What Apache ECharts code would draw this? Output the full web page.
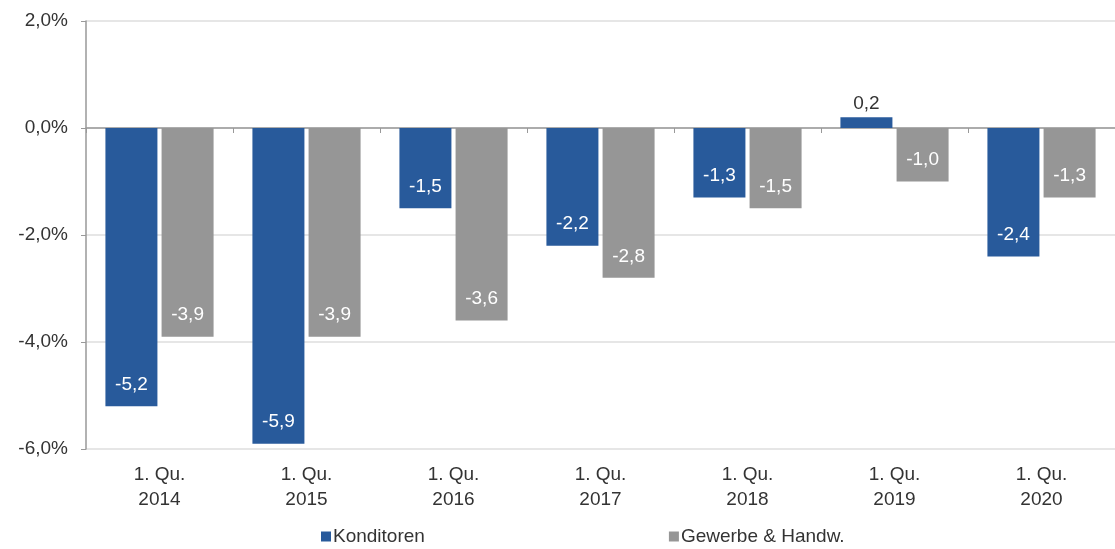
<!DOCTYPE html>
<html><head><meta charset="utf-8">
<script src="https://cdn.jsdelivr.net/npm/echarts@6/dist/echarts.min.js"></script>
<style>html,body{margin:0;padding:0;background:#fff}#c{width:1115px;height:549px}</style>
</head><body><div id="c"></div>
<script>
const categories = ['1. Qu.\n2014','1. Qu.\n2015','1. Qu.\n2016','1. Qu.\n2017','1. Qu.\n2018','1. Qu.\n2019','1. Qu.\n2020'];
const konditoren = [-5.2, -5.9, -1.5, -2.2, -1.3, 0.2, -2.4];
const gewerbe = [-3.9, -3.9, -3.6, -2.8, -1.5, -1.0, -1.3];
const seriesNames = ['Konditoren', 'Gewerbe & Handw.'];
const colors = ['#285a9b', '#969696'];
const FONT = 'Liberation Sans, Arial, sans-serif';
const FS = 19;

function fmt(v){ return v.toFixed(1).replace('.', ','); }
function mkData(arr){
  return arr.map(v => v >= 0
    ? {value: v, label: {position: 'top', color: '#333', distance: 4}}
    : {value: v});
}
const chart = echarts.init(document.getElementById('c'));
chart.setOption({
  animation: false,
  textStyle: {fontFamily: FONT},
  grid: {left: 86, width: 1039, top: 21, bottom: 100},
  legend: {
    bottom: 3, left: 321, padding: 0, itemGap: 244, itemWidth: 10, itemHeight: 10,
    icon: 'rect',
    textStyle: {fontFamily: FONT, fontSize: FS, color: '#333', padding: [0,0,0,-3]},
    data: seriesNames
  },
  xAxis: [{
    type: 'category', data: categories, position: 'bottom',
    axisLine: {show: false, onZero: false}, axisTick: {show: false},
    axisLabel: {fontFamily: FONT, fontSize: FS, color: '#333', margin: 13, lineHeight: 25}
  }, {
    type: 'category', data: categories, position: 'top',
    axisLine: {show: true, onZero: true, lineStyle: {color: '#999', width: 1.5}},
    axisTick: {show: true, length: 5, inside: true, lineStyle: {color: '#999'}},
    axisLabel: {show: false}
  }],
  yAxis: {
    type: 'value', min: -6, max: 2, interval: 2,
    axisLine: {show: true, lineStyle: {color: '#999', width: 1.5}},
    axisTick: {show: true, length: 5, lineStyle: {color: '#999'}},
    splitLine: {lineStyle: {color: '#dedede', width: 1.5}},
    axisLabel: {fontFamily: FONT, fontSize: FS, color: '#333', margin: 18, formatter: v => fmt(v) + '%'}
  },
  series: [
    {name: seriesNames[0], type: 'bar', xAxisIndex: 0, data: mkData(konditoren), barWidth: 52, barGap: '8%',
     itemStyle: {color: colors[0]},
     label: {show: true, position: 'insideBottom', distance: 12, color: '#fff', fontFamily: FONT, fontSize: FS, formatter: p => fmt(p.value)}},
    {name: seriesNames[1], type: 'bar', xAxisIndex: 0, data: mkData(gewerbe), barWidth: 52, barGap: '8%',
     itemStyle: {color: colors[1]},
     label: {show: true, position: 'insideBottom', distance: 12, color: '#fff', fontFamily: FONT, fontSize: FS, formatter: p => fmt(p.value)}}
  ]
});
</script></body></html>
